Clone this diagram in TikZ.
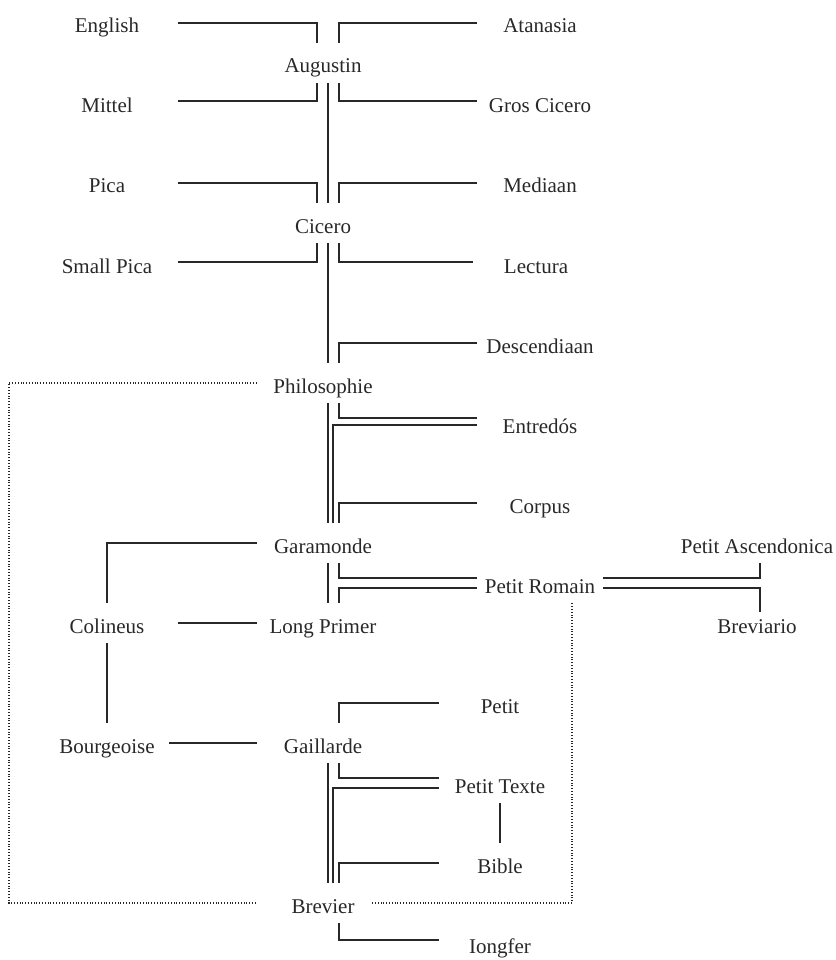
\documentclass[tikz,border=0pt]{standalone}
\usepackage{fontspec}
\setmainfont{Liberation Serif}
\definecolor{ink}{RGB}{40,40,40}
\begin{document}
\begin{tikzpicture}[x=1pt,y=-1pt,
  every node/.style={inner sep=0pt, text height=30pt, text depth=10pt,
    font=\fontsize{21}{25}\selectfont, text=ink},
  lft/.style={minimum width=142pt},
  mid/.style={minimum width=132pt},
  rup/.style={minimum width=126pt},
  rlo/.style={minimum width=122pt},
  link/.style={draw=ink, line width=1.2pt},
  group/.style={draw=ink, line width=1.1pt, dash pattern=on 1pt off 1.8pt}]
\useasboundingbox (0,0) rectangle (835,960);

% left column
\node[lft] (English)    at (107,23)  {English};
\node[lft] (Mittel)     at (107,103) {Mittel};
\node[lft] (Pica)       at (107,183) {Pica};
\node[lft] (SmallPica)  at (107,263) {Small Pica};
\node[lft] (Colineus)   at (107,623) {Colineus};
\node[minimum width=124pt] (Bourgeoise) at (107,743) {Bourgeoise};

% centre column
\node[mid] (Augustin)    at (323,63)  {Augustin};
\node[mid] (Cicero)      at (323,223) {Cicero};
\node[mid] (Philosophie) at (323,383) {Philosophie};
\node[mid] (Garamonde)   at (323,543) {Garamonde};
\node[mid] (LongPrimer)  at (323,623) {Long Primer};
\node[mid] (Gaillarde)   at (323,743) {Gaillarde};
\node[mid] (Brevier)     at (323,903) {Brevier};

% right column, upper
\node[rup] (Atanasia)    at (540,23)  {Atanasia};
\node[rup] (GrosCicero)  at (540,103) {Gros Cicero};
\node[rup] (Mediaan)     at (540,183) {Mediaan};
\node[rup] (Lectura)     at (536,263) {Lectura};
\node[rup] (Descendiaan) at (540,343) {Descendiaan};
\node[rup] (Entredos)    at (540,423) {Entredós};
\node[rup] (Corpus)      at (540,503) {Corpus};
\node[rup] (PetitRomain) at (540,583) {Petit Romain};

% right column, lower
\node[rlo] (Petit)      at (500,703) {Petit};
\node[rlo] (PetitTexte) at (500,783) {Petit Texte};
\node[rlo] (Bible)      at (500,863) {Bible};
\node[rlo] (Iongfer)    at (500,943) {Iongfer};

% far right
\node (PetitAsc)  at (757,543) {Petit Ascendonica};
\node (Breviario) at (757,623) {Breviario};

% Augustin
\draw[link] (English.east) -| ([xshift=-6pt]Augustin.north);
\draw[link] (Atanasia.west) -| ([xshift=16pt]Augustin.north);
\draw[link] ([xshift=-6pt]Augustin.south) |- ([yshift=2pt]Mittel.east);
\draw[link] ([xshift=16pt]Augustin.south) |- ([yshift=2pt]GrosCicero.west);
\draw[link] ([xshift=5pt]Augustin.south) -- ([xshift=5pt]Cicero.north);

% Cicero
\draw[link] (Pica.east) -| ([xshift=-6pt]Cicero.north);
\draw[link] (Mediaan.west) -| ([xshift=16pt]Cicero.north);
\draw[link] ([xshift=-6pt]Cicero.south) |- ([yshift=1pt]SmallPica.east);
\draw[link] ([xshift=16pt]Cicero.south) |- ([yshift=1pt]Lectura.west);
\draw[link] ([xshift=5pt]Cicero.south) -- ([xshift=5pt]Philosophie.north);

% Philosophie
\draw[link] (Descendiaan.west) -| ([xshift=16pt]Philosophie.north);
\draw[link] ([xshift=16pt]Philosophie.south) |- ([yshift=5pt]Entredos.west);
\draw[link] ([yshift=-2pt]Entredos.west) -| ([xshift=10pt]Garamonde.north);
\draw[link] ([xshift=5pt]Philosophie.south) -- ([xshift=5pt]Garamonde.north);
\draw[link] (Corpus.west) -| ([xshift=16pt]Garamonde.north);

% Garamonde
\draw[link] (Garamonde.west) -| (Colineus.north);
\draw[link] ([xshift=5pt]Garamonde.south) -- ([xshift=5pt]LongPrimer.north);
\draw[link] ([xshift=16pt]Garamonde.south) |- ([yshift=5pt]PetitRomain.west);
\draw[link] ([yshift=-5pt]PetitRomain.west) -| ([xshift=16pt]LongPrimer.north);
\draw[link] ([yshift=5pt]PetitRomain.east) -| ([xshift=3pt]PetitAsc.south);
\draw[link] ([yshift=-5pt]PetitRomain.east) -| ([xshift=3pt,yshift=-9pt]Breviario.north);

% Colineus, Long Primer, Bourgeoise
\draw[link] (Colineus.east) -- (LongPrimer.west);
\draw[link] (Colineus) -- (Bourgeoise);
\draw[link] (Bourgeoise.east) -- (Gaillarde.west);

% Gaillarde
\draw[link] (Petit.west) -| ([xshift=16pt]Gaillarde.north);
\draw[link] ([xshift=16pt]Gaillarde.south) |- ([yshift=5pt]PetitTexte.west);
\draw[link] ([yshift=-5pt]PetitTexte.west) -| ([xshift=10pt]Brevier.north);
\draw[link] ([xshift=5pt]Gaillarde.south) -- ([xshift=5pt]Brevier.north);
\draw[link] (PetitTexte) -- (Bible);
\draw[link] (Bible.west) -| ([xshift=16pt]Brevier.north);
\draw[link] ([xshift=16pt]Brevier.south) |- ([yshift=3pt]Iongfer.west);

% dotted grouping frame
\draw[group] (Philosophie.west) -| (9,903) -- (Brevier.west);
\draw[group] ([xshift=-17pt]Brevier.east) -| ([xshift=32pt]PetitRomain.south);
\end{tikzpicture}
\end{document}
